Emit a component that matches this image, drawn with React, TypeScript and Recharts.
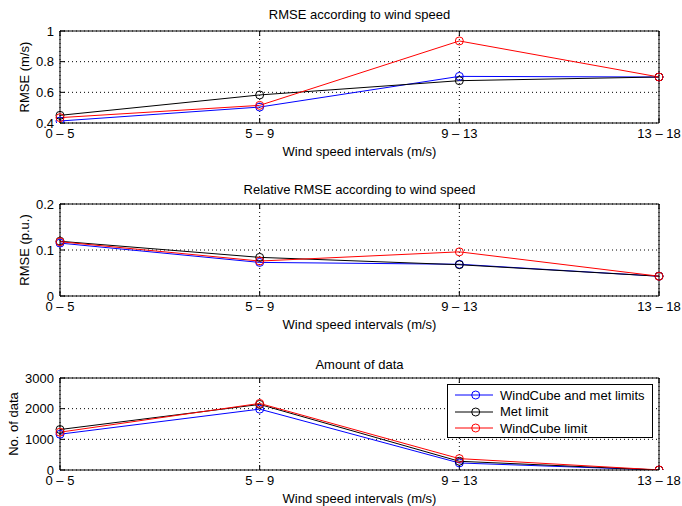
import React from 'react';
import { LineChart, Line, XAxis, YAxis, CartesianGrid, Legend, Label } from 'recharts';

const intervals = ['0 – 5', '5 – 9', '9 – 13', '13 – 18'];

// RMSE (m/s)
const rmseBoth = [0.413, 0.504, 0.704, 0.7];
const rmseMet = [0.45, 0.583, 0.676, 0.7];
const rmseWindcube = [0.435, 0.515, 0.935, 0.7];

// Relative RMSE (p.u.)
const relBoth = [0.115, 0.073, 0.069, 0.043];
const relMet = [0.119, 0.084, 0.068, 0.043];
const relWindcube = [0.118, 0.076, 0.096, 0.043];

// Amount of data
const countBoth = [1167, 1985, 229, 0];
const countMet = [1320, 2138, 284, 0];
const countWindcube = [1233, 2171, 371, 3];

const seriesNames = ['WindCube and met limits', 'Met limit', 'WindCube limit'];
const seriesColors = ['#0000ff', '#000000', '#ff0000'];

const FONT = '"Liberation Sans", Arial, Helvetica, sans-serif';

const buildRows = (a: number[], b: number[], c: number[]) =>
  intervals.map((cat, i) => ({ cat, s0: a[i], s1: b[i], s2: c[i] }));

const yLabelContent = (text: string, cx: number) => (props: any) => {
  const vb = props.viewBox || { y: 0, height: 0 };
  const cy = vb.y + vb.height / 2;
  return (
    <text
      x={cx}
      y={cy}
      transform={`rotate(-90, ${cx}, ${cy})`}
      textAnchor="middle"
      dominantBaseline="central"
      fontSize={13}
      fill="#000"
      fontFamily={FONT}
    >
      {text}
    </text>
  );
};

const LegendBox = () => (
  <div
    style={{
      width: 206,
      height: 54,
      boxSizing: 'border-box',
      border: '1px solid #000',
      background: '#fff',
      position: 'relative',
      fontFamily: FONT,
    }}
  >
    {seriesNames.map((name, i) => (
      <div
        key={name}
        style={{ position: 'absolute', left: 0, top: 2 + i * 16.7, height: 16, display: 'flex', alignItems: 'center' }}
      >
        <svg width={49} height={16} style={{ display: 'block' }}>
          <line x1={7} x2={45} y1={8} y2={8} stroke={seriesColors[i]} strokeWidth={1} />
          <circle cx={27.7} cy={8} r={4} fill="none" stroke={seriesColors[i]} strokeWidth={1} />
        </svg>
        <span style={{ fontSize: 13, marginLeft: 3, color: '#000', whiteSpace: 'nowrap' }}>{name}</span>
      </div>
    ))}
  </div>
);

interface PanelProps {
  top: number;
  height: number;
  marginTop: number;
  marginBottom: number;
  title: string;
  titleY: number;
  yLabel: string;
  yLabelX: number;
  domain: [number, number];
  ticks: number[];
  rows: any[];
  legend?: boolean;
}

const tickStyle = { fontSize: 13, fill: '#000', fontFamily: FONT };

const Panel: React.FC<PanelProps> = ({
  top, height, marginTop, marginBottom, title, titleY, yLabel, yLabelX, domain, ticks, rows, legend,
}) => (
  <>
    <div
      style={{
        position: 'absolute', left: 60, width: 599, top: titleY - 8, height: 16, lineHeight: '16px',
        fontSize: 13, textAlign: 'center', color: '#000', fontFamily: FONT,
      }}
    >
      {title}
    </div>
    <div style={{ position: 'absolute', left: 0, top, width: 682, height }}>
      <LineChart width={682} height={height} data={rows} margin={{ top: marginTop - 1, right: 22, bottom: marginBottom, left: 0 }}>
        <CartesianGrid stroke="#000" strokeDasharray="1 3" strokeWidth={1} />
        <XAxis
          dataKey="cat"
          interval={0}
          height={33}
          tick={tickStyle}
          tickSize={-5}
          tickMargin={11}
          stroke="#000"
          axisLine={{ stroke: '#000' }}
        >
          <Label value="Wind speed intervals (m/s)" position="insideBottom" offset={0} fontSize={13} fill="#000" fontFamily={FONT} />
        </XAxis>
        <XAxis xAxisId="t" dataKey="cat" orientation="top" height={1} interval={0} tickSize={-5} tick={() => <g />} stroke="#000" />
        <YAxis
          width={60}
          domain={domain}
          ticks={ticks}
          type="number"
          allowDataOverflow
          tick={tickStyle}
          tickSize={-5}
          tickMargin={11}
          tickFormatter={(v: number) => String(v)}
          stroke="#000"
        >
          <Label content={yLabelContent(yLabel, yLabelX)} />
        </YAxis>
        <YAxis
          yAxisId="r"
          orientation="right"
          width={1}
          domain={domain}
          ticks={ticks}
          type="number"
          tickSize={-5}
          tick={() => <g />}
          stroke="#000"
        />
        {['s0', 's1', 's2'].map((key, i) => (
          <Line
            key={key}
            dataKey={key}
            name={seriesNames[i]}
            stroke={seriesColors[i]}
            strokeWidth={1}
            dot={{ r: 4, fill: 'none', stroke: seriesColors[i], strokeWidth: 1 }}
            activeDot={false}
            isAnimationActive={false}
          />
        ))}
        {legend && (
          <Legend
            layout="vertical"
            align="center"
            verticalAlign="middle"
            content={() => <LegendBox />}
            wrapperStyle={{ left: 447, top: 44, width: 206, height: 54 }}
          />
        )}
      </LineChart>
    </div>
  </>
);

export default function App() {
  return (
    <div style={{ position: 'absolute', left: 0, top: 0, width: 682, height: 506, background: '#fff', fontFamily: FONT }}>
      <Panel
        top={0} height={170} marginTop={31} marginBottom={14}
        title="RMSE according to wind speed" titleY={15}
        yLabel="RMSE (m/s)" yLabelX={24}
        domain={[0.4, 1]} ticks={[0.4, 0.6, 0.8, 1]}
        rows={buildRows(rmseBoth, rmseMet, rmseWindcube)}
      />
      <Panel
        top={170} height={173} marginTop={34} marginBottom={14}
        title="Relative RMSE according to wind speed" titleY={190}
        yLabel="RMSE (p.u.)" yLabelX={24}
        domain={[0, 0.2]} ticks={[0, 0.1, 0.2]}
        rows={buildRows(relBoth, relMet, relWindcube)}
      />
      <Panel
        top={340} height={166} marginTop={38} marginBottom={3}
        title="Amount of data" titleY={365}
        yLabel="No. of data" yLabelX={13}
        domain={[0, 3000]} ticks={[0, 1000, 2000, 3000]}
        rows={buildRows(countBoth, countMet, countWindcube)}
        legend
      />
    </div>
  );
}
